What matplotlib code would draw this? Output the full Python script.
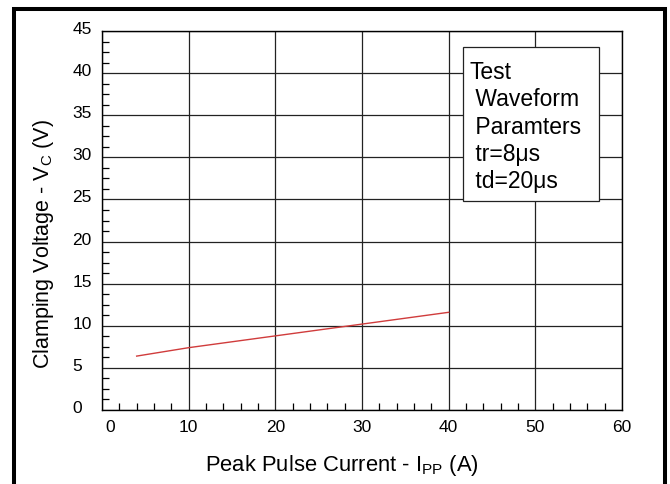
import matplotlib
matplotlib.use("Agg")
import matplotlib.pyplot as plt
import matplotlib.transforms as mtransforms
from matplotlib.patches import Rectangle
from matplotlib.ticker import MultipleLocator

# グラフのデータ
current_a = [4, 10, 20, 30, 40]
clamp_v = [6.4, 7.4, 8.8, 10.2, 11.6]
x_ticks = [0, 10, 20, 30, 40, 50, 60]
y_ticks = [0, 5, 10, 15, 20, 25, 30, 35, 40, 45]
box_lines = ["Test", " Waveform", " Paramters", " tr=8μs", " td=20μs"]

plt.rcParams["font.family"] = ["Liberation Sans", "DejaVu Sans"]
plt.rcParams["mathtext.fontset"] = "custom"
plt.rcParams["mathtext.rm"] = "Liberation Sans"
plt.rcParams["mathtext.it"] = "Liberation Sans:italic"

W, H = 670, 485
fig = plt.figure(figsize=(W / 100, H / 100), dpi=100)
ax = fig.add_axes([102 / W, 74 / H, 520 / W, 379 / H])

# 📈 クランプ電圧の推移
ax.plot(current_a, clamp_v, color="#d03c3c", lw=1.0, zorder=3)

ax.set_xlim(0, 60)
ax.set_ylim(0, 45)
ax.set_xticks(x_ticks)
ax.set_yticks(y_ticks)
ax.xaxis.set_minor_locator(MultipleLocator(2))
ax.yaxis.set_minor_locator(MultipleLocator(1.25))
ax.grid(True, which="major", color="#222222", lw=0.9)

ax.tick_params(which="major", length=0, labelsize=12.5)
ax.tick_params(axis="x", which="major", pad=6.5)
ax.tick_params(axis="y", which="major", pad=21.5)
ax.tick_params(which="minor", direction="in", length=5, width=0.9,
               left=True, bottom=True, right=False, top=False)
for s in ax.spines.values():
    s.set_linewidth(1.0)
    s.set_color("black")

# 目盛りラベルの位置を少しずらす
up = mtransforms.ScaledTranslation(0, 0.04, fig.dpi_scale_trans)
for lab in ax.get_yticklabels():
    lab.set_horizontalalignment("left")
    lab.set_transform(lab.get_transform() + up)
xl = ax.get_xticklabels()
xl[0].set_transform(xl[0].get_transform()
                    + mtransforms.ScaledTranslation(0.08, 0, fig.dpi_scale_trans))

# テスト条件のボックス
ax.add_patch(Rectangle((0.694, 0.5515), 0.2615, 0.406, transform=ax.transAxes,
                       facecolor="white", edgecolor="#222222", lw=0.9, zorder=4))
ax.text((469 - 102) / 520, (411 - 61) / 379, "\n".join(box_lines),
        transform=ax.transAxes, fontsize=16.5, va="top", ha="left",
        linespacing=1.24, zorder=5)

fig.text(342 / W, 1 - 466 / H, r"Peak Pulse Current - I$_\mathrm{PP}$ (A)",
         ha="center", va="center", fontsize=15.8)
fig.text(44 / W, 1 - 244 / H, r"Clamping Voltage - V$_\mathrm{C}$ (V)",
         ha="center", va="center", rotation=90, fontsize=15.5)

# 外枠
fig.patches.append(Rectangle((14 / W, -0.1), (665 - 14) / W, 1 - 10 / H + 0.1,
                             transform=fig.transFigure, fill=False,
                             lw=2.9, edgecolor="black"))

fig.savefig("out.png", dpi=100)
